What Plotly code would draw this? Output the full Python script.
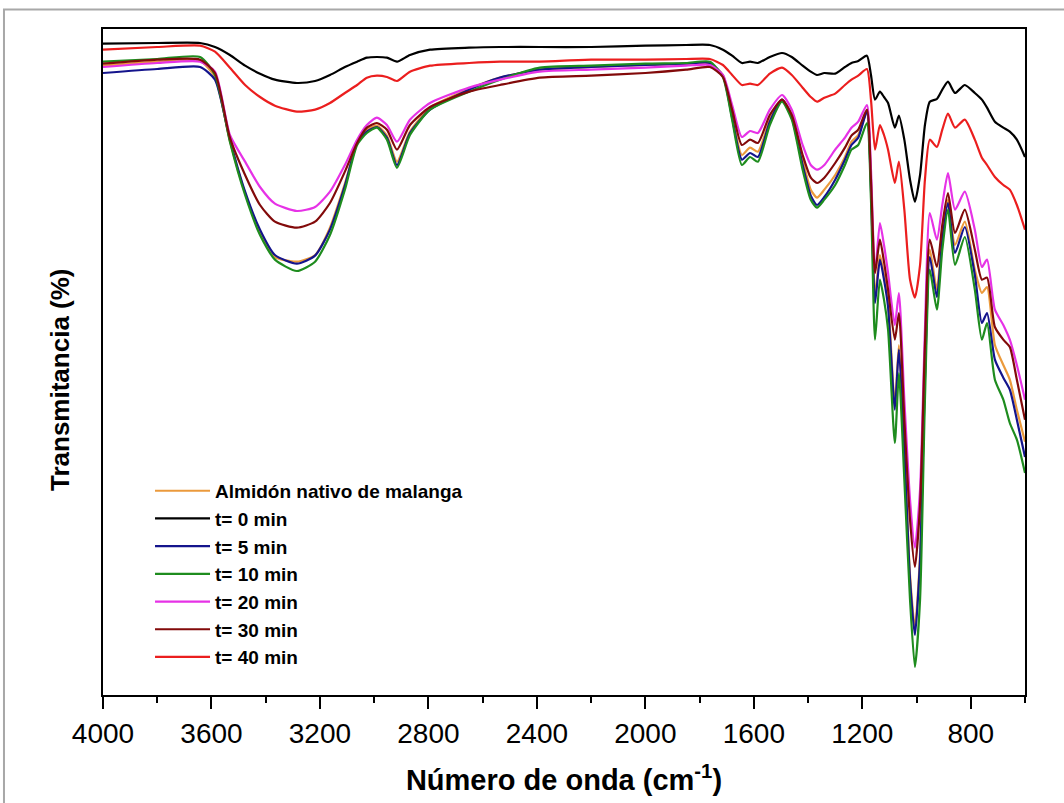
import plotly.graph_objects as go

# Wavenumber grid (cm^-1)
wavenumber = [4000, 3800, 3642, 3587, 3532, 3476, 3421, 3366, 3285, 3218, 3163, 3108, 3063, 3027,
              2990, 2953, 2916, 2868, 2794, 2650, 2536, 2389, 2200, 2000, 1850, 1762, 1714, 1680,
              1644, 1614, 1585, 1541, 1496, 1460, 1420, 1390, 1367, 1340, 1300, 1264, 1240, 1215,
              1183, 1168, 1153, 1135, 1120, 1105, 1080, 1065, 1045, 1024, 1006, 987, 969, 951,
              925, 905, 884, 858, 822, 785, 759, 740, 711, 680, 656, 630, 600]

# Transmittance (arbitrary %)
t_native = [94.4, 95.0, 95.1, 92.7, 83.1, 75.3, 69.5, 65.7, 65.0, 66.0, 70.1, 76.7, 82.7, 84.8,
            85.4, 83.9, 80.0, 84.5, 88.1, 90.9, 92.6, 93.8, 94.2, 94.5, 94.7, 94.7, 93.0, 87.0,
            81.0, 82.1, 81.5, 86.3, 89.3, 86.9, 80.3, 75.8, 74.6, 75.8, 78.0, 80.7, 83.0, 84.0,
            87.5, 76.5, 60.0, 66.0, 63.0, 59.3, 43.5, 52.5, 37.5, 18.0, 10.1, 21.0, 48.0, 66.8,
            60.8, 69.0, 74.3, 67.5, 71.0, 63.8, 60.3, 61.2, 52.5, 49.5, 47.3, 42.8, 38.0]
t_0 = [97.7, 97.8, 97.8, 97.2, 96.0, 94.4, 93.2, 92.3, 91.8, 92.1, 93.0, 94.2, 95.0, 95.6,
       95.7, 95.6, 95.0, 96.0, 96.8, 97.1, 97.2, 97.2, 97.2, 97.4, 97.5, 97.5, 96.8, 95.9,
       94.8, 95.0, 94.8, 95.7, 96.3, 95.7, 94.4, 93.5, 93.0, 93.3, 93.2, 94.2, 94.8, 95.1,
       95.9, 93.0, 89.3, 90.5, 89.7, 88.8, 85.1, 86.9, 83.3, 77.3, 74.0, 78.0, 85.5, 89.0,
       89.4, 90.8, 92.0, 90.3, 91.5, 90.3, 89.3, 88.1, 86.0, 85.1, 84.5, 83.3, 80.7]
t_5 = [93.3, 93.9, 94.2, 92.3, 83.3, 75.5, 69.8, 66.0, 64.7, 65.9, 69.8, 76.4, 82.8, 84.5,
       85.2, 83.6, 79.5, 84.3, 87.8, 90.8, 92.6, 93.8, 94.2, 94.5, 94.7, 94.8, 92.9, 86.6,
       80.3, 81.3, 80.7, 86.0, 89.3, 86.6, 79.5, 74.9, 73.5, 74.7, 77.3, 80.3, 82.5, 83.6,
       87.5, 75.8, 58.8, 65.3, 62.3, 58.2, 42.8, 51.8, 36.8, 17.3, 9.0, 20.3, 47.3, 65.7,
       59.7, 68.3, 73.8, 66.3, 70.2, 63.0, 55.8, 57.3, 50.3, 47.6, 45.8, 41.3, 35.7]
t_10 = [95.0, 95.4, 95.7, 93.0, 83.0, 75.0, 69.0, 65.3, 63.6, 65.0, 69.0, 75.8, 82.5, 84.3,
        85.1, 83.3, 79.1, 84.0, 87.8, 90.5, 92.3, 94.1, 94.4, 94.7, 94.8, 95.0, 92.7, 86.3,
        79.5, 80.7, 80.0, 85.5, 89.0, 86.3, 78.8, 74.3, 73.1, 74.3, 76.5, 79.5, 81.8, 82.5,
        85.8, 74.3, 53.3, 62.3, 59.3, 54.8, 37.8, 48.3, 32.3, 14.3, 4.2, 14.3, 44.3, 63.8,
        57.8, 66.8, 72.8, 64.5, 68.7, 60.8, 53.3, 55.8, 47.3, 44.3, 40.8, 38.3, 33.3]
t_20 = [94.2, 94.8, 95.0, 93.5, 84.0, 80.0, 76.2, 73.7, 72.6, 73.2, 75.5, 79.5, 83.3, 85.5,
        86.6, 85.5, 83.0, 86.3, 88.8, 91.1, 92.3, 93.5, 93.8, 94.1, 94.4, 94.5, 93.0, 88.5,
        83.7, 84.6, 84.3, 87.8, 90.0, 87.8, 82.5, 79.5, 78.8, 79.5, 81.8, 83.6, 85.1, 86.0,
        88.5, 78.8, 63.3, 70.8, 67.5, 63.3, 55.5, 60.3, 44.3, 29.3, 22.1, 30.8, 54.8, 72.3,
        68.3, 73.5, 78.3, 72.8, 75.5, 69.8, 64.2, 65.3, 57.8, 55.5, 53.3, 49.5, 44.3]
t_30 = [94.7, 95.3, 95.3, 93.3, 83.6, 78.0, 73.5, 71.0, 70.1, 71.0, 73.8, 78.5, 82.8, 85.1,
        85.8, 84.8, 81.8, 85.5, 88.2, 90.5, 91.5, 92.6, 92.9, 93.3, 93.8, 94.2, 92.7, 87.8,
        82.5, 83.3, 82.8, 87.0, 89.3, 87.0, 81.0, 77.6, 76.8, 77.6, 79.8, 82.1, 83.9, 84.8,
        87.8, 77.3, 63.3, 68.3, 65.0, 60.8, 53.3, 57.3, 41.3, 26.3, 19.2, 28.5, 52.5, 68.3,
        64.2, 70.5, 75.3, 69.3, 72.8, 66.8, 62.3, 62.6, 55.2, 53.3, 52.2, 47.3, 41.3]
t_40 = [96.8, 97.2, 97.4, 96.5, 94.1, 91.5, 89.7, 88.4, 87.5, 87.8, 88.8, 90.3, 91.5, 92.6,
        92.9, 92.7, 92.1, 93.5, 94.4, 94.8, 95.0, 95.0, 95.3, 95.3, 95.4, 95.4, 94.5, 93.0,
        91.5, 91.7, 91.5, 93.2, 94.1, 93.0, 91.1, 89.7, 89.0, 89.6, 90.2, 91.5, 92.3, 92.9,
        93.9, 89.3, 81.8, 85.5, 84.0, 81.8, 76.8, 80.0, 72.8, 62.3, 59.6, 64.5, 77.3, 83.3,
        82.2, 84.8, 87.2, 85.1, 86.3, 83.3, 80.6, 79.5, 77.7, 76.5, 75.8, 73.5, 69.8]

series_names = ["Almidón nativo de malanga", "t= 0 min", "t= 5 min", "t= 10 min",
                "t= 20 min", "t= 30 min", "t= 40 min"]
series_values = [t_native, t_0, t_5, t_10, t_20, t_30, t_40]
series_colors = ["#EB9A3C", "#000000", "#14148C", "#1E8C1E", "#E632E6", "#820A0A", "#EB1E1E"]

x_tick_vals = [4000, 3600, 3200, 2800, 2400, 2000, 1600, 1200, 800]

FONT = "Arial, Liberation Sans, sans-serif"

fig = go.Figure()
for i, (name, vals, col) in enumerate(zip(series_names, series_values, series_colors)):
    fig.add_trace(go.Scatter(
        x=wavenumber, y=vals, name=name, mode="lines",
        line=dict(color=col, width=2.2, shape="spline", smoothing=0.6),
        legendgroup=f"g{i}",
    ))

fig.update_layout(
    width=1064, height=803,
    margin=dict(l=103, r=39, t=29, b=108),
    paper_bgcolor="white", plot_bgcolor="white",
    font=dict(family=FONT, color="black"),
    showlegend=True,
    legend=dict(
        x=0.051, y=0.335, xanchor="left", yanchor="top",
        bgcolor="rgba(0,0,0,0)", borderwidth=0,
        font=dict(family=FONT, size=19, color="black", weight="bold"),
        tracegroupgap=0, itemwidth=55,
    ),
    shapes=[dict(type="rect", xref="paper", yref="paper",
                 x0=-0.1074, x1=1.12, y0=-0.25, y1=1.0293,
                 line=dict(color="#a8a8a8", width=2), fillcolor="rgba(0,0,0,0)")],
    annotations=[dict(text="Transmitancia (%)", xref="paper", yref="paper",
                      x=-0.0466, y=0.473, xanchor="center", yanchor="middle",
                      textangle=-90, showarrow=False,
                      font=dict(family=FONT, size=26, color="black", weight="bold"))],
)

fig.update_xaxes(
    range=[4000, 600],
    tickmode="array", tickvals=x_tick_vals,
    ticks="outside", ticklen=12, tickwidth=1.5, tickcolor="black",
    minor=dict(dtick=200, tick0=0, ticks="outside", ticklen=6, tickwidth=1.5, tickcolor="black"),
    showline=True, linecolor="black", linewidth=1.8, mirror=True,
    showgrid=False, zeroline=False,
    tickfont=dict(family=FONT, size=28, color="black"),
    title=dict(text="Número de onda (cm<sup>-1</sup>)",
               font=dict(family=FONT, size=29, color="black", weight="bold"), standoff=22),
)
fig.update_yaxes(
    range=[0, 99.9],
    showticklabels=False, ticks="",
    showline=True, linecolor="black", linewidth=1.8, mirror=True,
    showgrid=False, zeroline=False,
)

fig.write_html("out.html")
